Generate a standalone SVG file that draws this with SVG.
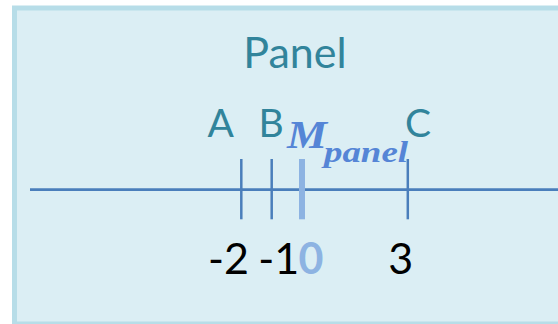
<svg xmlns="http://www.w3.org/2000/svg" width="558" height="324" viewBox="0 0 558 324">
<style>
.lbl{font-family:Lato,"Liberation Sans",sans-serif;fill:#31849b}
.num{font-family:Lato,"Liberation Sans",sans-serif;fill:#000;font-size:43px}
.tick{stroke:#4a7ebb;stroke-width:2.5}
.math{font-family:"Liberation Serif","DejaVu Serif",serif;font-style:italic;font-weight:bold;fill:#5585d6}
</style>
<rect width="558" height="324" fill="#ffffff"/>
<g id="panel">
<rect x="14.5" y="8" width="600" height="316" fill="#dbeef4" stroke="#b7dde8" stroke-width="5"/>
<text class="lbl" x="295" y="68" font-size="43" text-anchor="middle">Panel</text>
</g>
<g id="connectors">
<line x1="30" y1="189.7" x2="558" y2="189.7" stroke="#4a7ebb" stroke-width="2.8"/>
<line class="tick" x1="241.3" y1="159" x2="241.3" y2="219.3"/>
<line class="tick" x1="271.7" y1="159" x2="271.7" y2="219.3"/>
<line x1="302" y1="159" x2="302" y2="219.3" stroke="#8db3e2" stroke-width="6"/>
<line class="tick" x1="407.8" y1="159" x2="407.8" y2="219.3"/>
</g>
<g id="label-A"><text class="lbl" x="220.8" y="136.5" font-size="39" text-anchor="middle">A</text></g>
<g id="label-B"><text class="lbl" x="271" y="136.5" font-size="39" text-anchor="middle">B</text></g>
<g id="label-C"><text class="lbl" x="418" y="136.5" font-size="39" text-anchor="middle">C</text></g>
<g id="label-M">
<text class="math" x="287" y="148.3" font-size="39" textLength="40" lengthAdjust="spacingAndGlyphs">M</text>
<text class="math" x="324" y="161.7" font-size="29" textLength="84" lengthAdjust="spacingAndGlyphs">panel</text>
</g>
<g id="numbers">
<text class="num" x="228.5" y="274.3" text-anchor="middle">-2</text>
<text class="num" x="278.7" y="274.3" text-anchor="middle">-1</text>
<text class="num" x="311" y="274.3" text-anchor="middle" font-weight="bold" style="fill:#8db3e2">0</text>
<text class="num" x="400.7" y="274.3" text-anchor="middle">3</text>
</g>
</svg>
